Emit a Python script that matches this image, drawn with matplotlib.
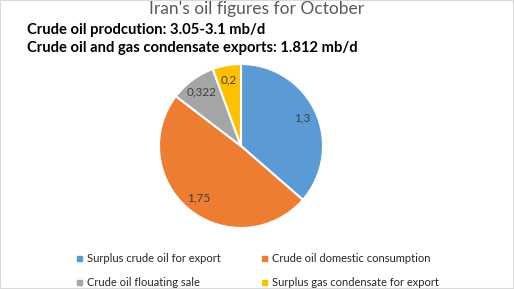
import matplotlib.pyplot as plt
from matplotlib.patches import Rectangle

# Data
labels = ["Surplus crude oil for export", "Crude oil domestic consumption",
          "Crude oil flouating sale", "Surplus gas condensate for export"]
values = [1.3, 1.75, 0.322, 0.2]
value_text = ["1,3", "1,75", "0,322", "0,2"]
colors = ["#5B9BD5", "#ED7D31", "#A5A5A5", "#FFC000"]

title = "Iran's oil figures for October"
info_lines = ["Crude oil prodcution: 3.05-3.1 mb/d",
              "Crude oil and gas condensate exports: 1.812 mb/d"]

plt.rcParams["font.family"] = ["Lato", "DejaVu Sans"]

W, H = 514, 289
fig = plt.figure(figsize=(W / 100, H / 100), dpi=100)
ax = fig.add_axes([0, 0, 1, 1])

wedges, texts = ax.pie(values, colors=colors, startangle=90, counterclock=False,
                       center=(241, H - 146), radius=82, labels=value_text,
                       labeldistance=0.82, frame=True,
                       wedgeprops=dict(edgecolor="white", linewidth=1.5),
                       textprops=dict(fontsize=8.5, color="#404040", ha="center", va="center"))
ax.set_xlim(0, W)
ax.set_ylim(0, H)
ax.set_aspect("equal")
ax.axis("off")

# title
fig.text(0.5, 1 - 9 / H, title, ha="center", va="center", fontsize=12.5, color="#595959")
for i, line in enumerate(info_lines):
    fig.text(27 / W, 1 - (30 + 18 * i) / H, line, ha="left", va="center",
             fontsize=10.6, fontweight="bold", color="black")

# legend, two columns
leg_x = [77, 262]
leg_y = [258, 282]
for i, lab in enumerate(labels):
    x = leg_x[i % 2]
    y = leg_y[i // 2]
    ax.add_patch(Rectangle((x, H - y - 2.5), 5, 5, color=colors[i]))
    ax.text(x + 10, H - y, lab, ha="left", va="center", fontsize=8, color="#262626")

# thin border
fig.patches.append(Rectangle((0, 0), 1, 1, transform=fig.transFigure, fill=False,
                             edgecolor="#D9D9D9", linewidth=1.5))

fig.savefig("out.png", dpi=100, facecolor="white")
